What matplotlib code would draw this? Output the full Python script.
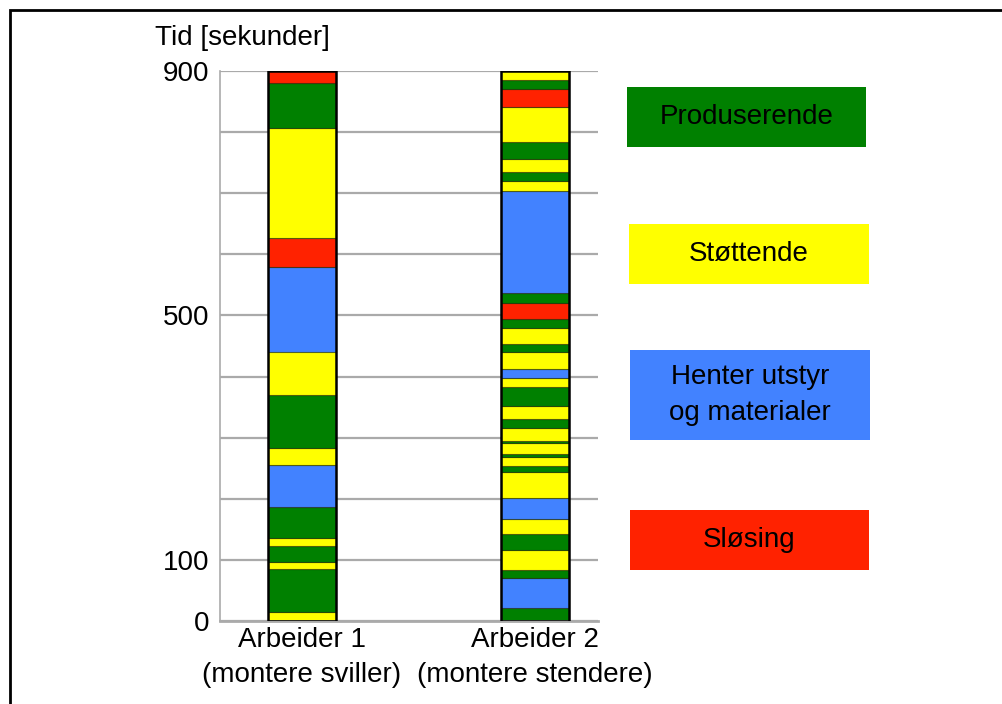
import matplotlib
matplotlib.use("Agg")
import matplotlib.pyplot as plt
from matplotlib.patches import Rectangle
import numpy as np

plt.rcParams['font.family'] = ['Liberation Sans', 'DejaVu Sans']

# Activity categories and colours
kategorier = ["Produserende", "Støttende", "Henter utstyr\nog materialer", "Sløsing"]
farger = {"G": "#008000", "Y": "#FFFF00", "B": "#4282FF", "R": "#FF2200"}
kode_rekkefolge = ["G", "Y", "B", "R"]

arbeider_navn = ["Arbeider 1", "Arbeider 2"]
arbeider_oppgave = ["(montere sviller)", "(montere stendere)"]

# Sequence of activities (bottom to top) and their durations in seconds
arbeider1_aktivitet = ["Y", "G", "Y", "G", "Y", "G", "B", "Y", "G", "Y", "B", "R", "Y", "G", "R"]
arbeider1_varighet = [15, 70, 12, 25, 14, 51, 68, 28, 87, 71, 139, 46, 180, 74, 20]

arbeider2_aktivitet = ["G", "B", "G", "Y", "G", "Y", "B", "Y", "G", "Y",
                       "G", "Y", "G", "Y", "G", "Y", "G", "Y", "B", "Y",
                       "G", "Y", "G", "R", "G", "B", "Y", "G", "Y", "G",
                       "Y", "R", "G", "Y"]
arbeider2_varighet = [21, 49, 14, 32, 26, 25, 34, 43, 10, 14,
                      5, 18, 4, 21, 14, 22, 31, 14, 16, 28,
                      12, 26, 16, 25, 16, 168, 16, 14, 22, 28,
                      57, 29, 16, 14]

y_ticks = [0, 100, 500, 900]
y_grid = list(range(0, 1000, 100))

W, H = 1003, 704
FS = 20
fig = plt.figure(figsize=(W / 100, H / 100), dpi=100)


def px_box(x0, y0, x1, y1):
    """Pixel box (top-left origin) -> figure fraction [left, bottom, width, height]."""
    return [x0 / W, 1 - y1 / H, (x1 - x0) / W, (y1 - y0) / H]


ax = fig.add_axes(px_box(220, 71, 598, 621))
ax.set_xlim(-0.352, 1.27)
ax.set_ylim(0, 900)

for yv in y_grid:
    ax.axhline(yv, color="#aaaaaa", lw=1.6, zorder=0)

bredde = 0.29
for i, (akt, var) in enumerate([(arbeider1_aktivitet, arbeider1_varighet),
                                 (arbeider2_aktivitet, arbeider2_varighet)]):
    var = np.array(var, dtype=float)
    bunn = np.concatenate([[0], np.cumsum(var)[:-1]])
    ax.bar([i] * len(var), var, bottom=bunn, width=bredde,
           color=[farger[a] for a in akt],
           edgecolor=(0.1, 0.15, 0.0, 0.6), linewidth=0.8, zorder=2)
    ax.bar(i, var.sum(), width=bredde, fill=False, edgecolor="black",
           linewidth=1.8, zorder=3)

for side in ["top", "right"]:
    ax.spines[side].set_visible(False)
ax.spines["left"].set_color("#aaaaaa")
ax.spines["left"].set_linewidth(1.2)
ax.spines["bottom"].set_color("#aaaaaa")
ax.spines["bottom"].set_linewidth(2.0)

ax.set_yticks(y_ticks)
ax.set_yticklabels([str(v) for v in y_ticks], fontsize=FS)
ax.tick_params(axis="y", length=0, pad=8)

# Worker names as tick labels, task description on a second line below
ax.set_xticks([0, 1])
ax.set_xticklabels(arbeider_navn, fontsize=FS)
ax.tick_params(axis="x", length=0, pad=4)
for i, oppgave in enumerate(arbeider_oppgave):
    ax.annotate(oppgave, xy=(i, 0), xycoords=ax.get_xaxis_transform(),
                xytext=(0, -54), textcoords="offset pixels",
                ha="center", va="center", fontsize=FS)

fig.text(155 / W, 1 - 38 / H, "Tid [sekunder]", fontsize=FS, ha="left", va="center")

# Colour key boxes
boks_px = [(627, 87, 866, 147), (629, 224, 869, 284), (630, 350, 870, 440), (630, 510, 869, 570)]
for kat, kode, (x0, y0, x1, y1) in zip(kategorier, kode_rekkefolge, boks_px):
    l, b, w, h = px_box(x0, y0, x1, y1)
    fig.patches.append(Rectangle((l, b), w, h, transform=fig.transFigure,
                                 facecolor=farger[kode], edgecolor="none"))
    fig.text(l + w / 2, b + h / 2, kat, fontsize=FS, ha="center", va="center",
             linespacing=1.5)

# Frame around the figure
fig.patches.append(Rectangle((10 / W, -0.1), 1.2, 1 - 10 / H + 0.1,
                             transform=fig.transFigure, fill=False,
                             edgecolor="black", linewidth=2))

fig.savefig("out.png", dpi=100)
